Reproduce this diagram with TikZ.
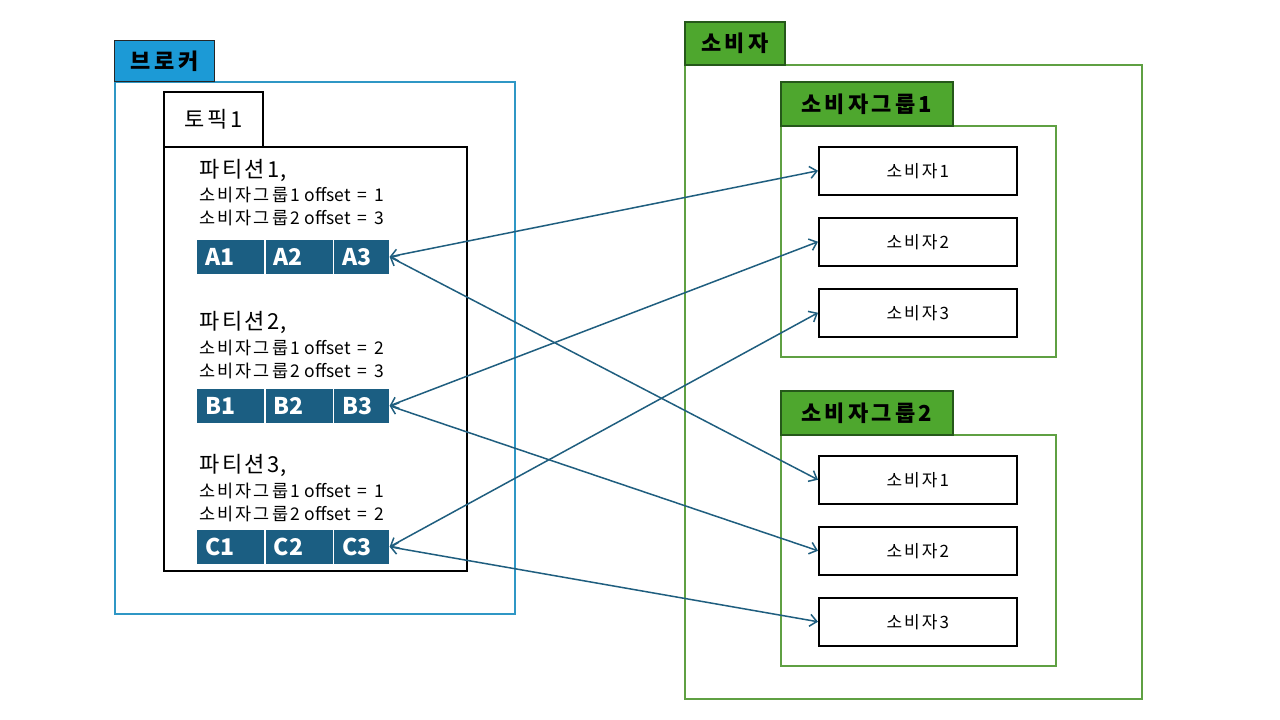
\documentclass[tikz,border=0pt]{standalone}
\usepackage{fontspec}
\setmainfont{Noto Sans CJK KR}
\newfontfamily\kofont{Noto Sans CJK KR}[LetterSpace=12]
\newcommand\kor[1]{{\kofont #1}}
\newcommand\eqsp{\hspace{7pt}}
\newcommand\gsp{\hspace{5pt}}
\usetikzlibrary{arrows.meta}
\definecolor{bluetab}{HTML}{1C9AD6}
\definecolor{blueline}{HTML}{2F97C5}
\definecolor{cellc}{HTML}{1B5E82}
\definecolor{greentab}{HTML}{4EA72E}
\definecolor{greenedge}{HTML}{25581A}
\definecolor{greenline}{HTML}{5FA043}
\definecolor{arrowc}{HTML}{1F5E7F}
\tikzset{
  box/.style={draw, rectangle, anchor=north west, inner sep=0pt},
  tabfont/.style={font=\fontsize{22}{26}\selectfont\bfseries\addfontfeature{LetterSpace=15}},
  bluetabst/.style={box, fill=bluetab, draw=black!85, line width=1.2pt, tabfont},
  greentabst/.style={box, fill=greentab, draw=greenedge, line width=1.6pt, tabfont},
  greenbox/.style={box, draw=greenline, line width=1.5pt},
  consumer/.style={box, draw=black, line width=1.5pt, minimum width=198pt, minimum height=48pt, font=\fontsize{17}{20}\selectfont},
  cellst/.style={box, fill=cellc, draw=white, line width=0.6pt, text=white, minimum height=35pt, inner xsep=9pt, align=left, font=\fontsize{23}{27}\selectfont\bfseries},
  ptitle/.style={anchor=west, inner sep=0pt, font=\fontsize{22}{26}\selectfont},
  pline/.style={anchor=west, inner sep=0pt, font=\fontsize{17.5}{20}\selectfont},
  conn/.style={draw=arrowc, line width=1.5pt, {Straight Barb[length=7pt,width=12pt]}-{Straight Barb[length=7pt,width=12pt]}}
}
\begin{document}
\begin{tikzpicture}[x=1pt,y=-1pt]
\useasboundingbox (0,0) rectangle (1280,720);
\fill[white] (0,0) rectangle (1280,720);
% broker
\node[box, draw=blueline, line width=1.5pt, minimum width=400pt, minimum height=532pt] (brokerbox) at (114,81) {};
\node[bluetabst, minimum width=100pt, minimum height=41pt] (brokertab) at (114,40) {브로커};
\node[box, draw=black, line width=1.5pt, fill=white, minimum width=99pt, minimum height=55pt, font=\fontsize{22}{26}\selectfont] (topictab) at (163,91) {\kor{토픽1}};
\node[box, draw=black, line width=1.5pt, minimum width=303pt, minimum height=424pt] (topicbox) at (163,146) {};
% partition 1
\node[ptitle] (p1t) at (199,170) {\kor{파티션1},};
\node[pline] (p1a) at (199,195) {\kor{소비자그룹1}\gsp offset\eqsp=\eqsp1};
\node[pline] (p1b) at (199,218) {\kor{소비자그룹2}\gsp offset\eqsp=\eqsp3};
\node[cellst, text width=50pt] (A1) at (196,239) {A1};
\node[cellst, text width=50pt] (A2) at (264.5,239) {A2};
\node[cellst, text width=38pt] (A3) at (333,239) {A3};
% partition 2
\node[ptitle] (p2t) at (199,322) {\kor{파티션2},};
\node[pline] (p2a) at (199,348) {\kor{소비자그룹1}\gsp offset\eqsp=\eqsp2};
\node[pline] (p2b) at (199,371) {\kor{소비자그룹2}\gsp offset\eqsp=\eqsp3};
\node[cellst, text width=50pt] (B1) at (196,388) {B1};
\node[cellst, text width=50pt] (B2) at (264.5,388) {B2};
\node[cellst, text width=38pt] (B3) at (333,388) {B3};
% partition 3
\node[ptitle] (p3t) at (199,465) {\kor{파티션3},};
\node[pline] (p3a) at (199,491) {\kor{소비자그룹1}\gsp offset\eqsp=\eqsp1};
\node[pline] (p3b) at (199,514) {\kor{소비자그룹2}\gsp offset\eqsp=\eqsp2};
\node[cellst, text width=50pt] (C1) at (196,529) {C1};
\node[cellst, text width=50pt] (C2) at (264.5,529) {C2};
\node[cellst, text width=38pt] (C3) at (333,529) {C3};
% consumers
\node[greenbox, minimum width=457pt, minimum height=634pt] (consbox) at (684,64) {};
\node[greentabst, minimum width=100pt, minimum height=43pt] (constab) at (684,21) {소비자};
\node[greenbox, minimum width=275pt, minimum height=231pt] (g1box) at (780,125) {};
\node[greentabst, minimum width=172pt, minimum height=44pt] (g1tab) at (780,81) {소비자그룹1};
\node[greenbox, minimum width=275pt, minimum height=231pt] (g2box) at (780,434) {};
\node[greentabst, minimum width=172pt, minimum height=44pt] (g2tab) at (780,390) {소비자그룹2};
\node[consumer] (g1c1) at (818,146) {\kor{소비자1}};
\node[consumer] (g1c2) at (818,217) {\kor{소비자2}};
\node[consumer] (g1c3) at (818,288) {\kor{소비자3}};
\node[consumer] (g2c1) at (818,455) {\kor{소비자1}};
\node[consumer] (g2c2) at (818,526) {\kor{소비자2}};
\node[consumer] (g2c3) at (818,597) {\kor{소비자3}};
% connectors
\draw[conn] (A3.east) -- (g1c1.west);
\draw[conn] (A3.east) -- (g2c1.west);
\draw[conn] (B3.east) -- (g1c2.west);
\draw[conn] (B3.east) -- (g2c2.west);
\draw[conn] (C3.east) -- (g1c3.west);
\draw[conn] (C3.east) -- (g2c3.west);
\end{tikzpicture}
\end{document}
